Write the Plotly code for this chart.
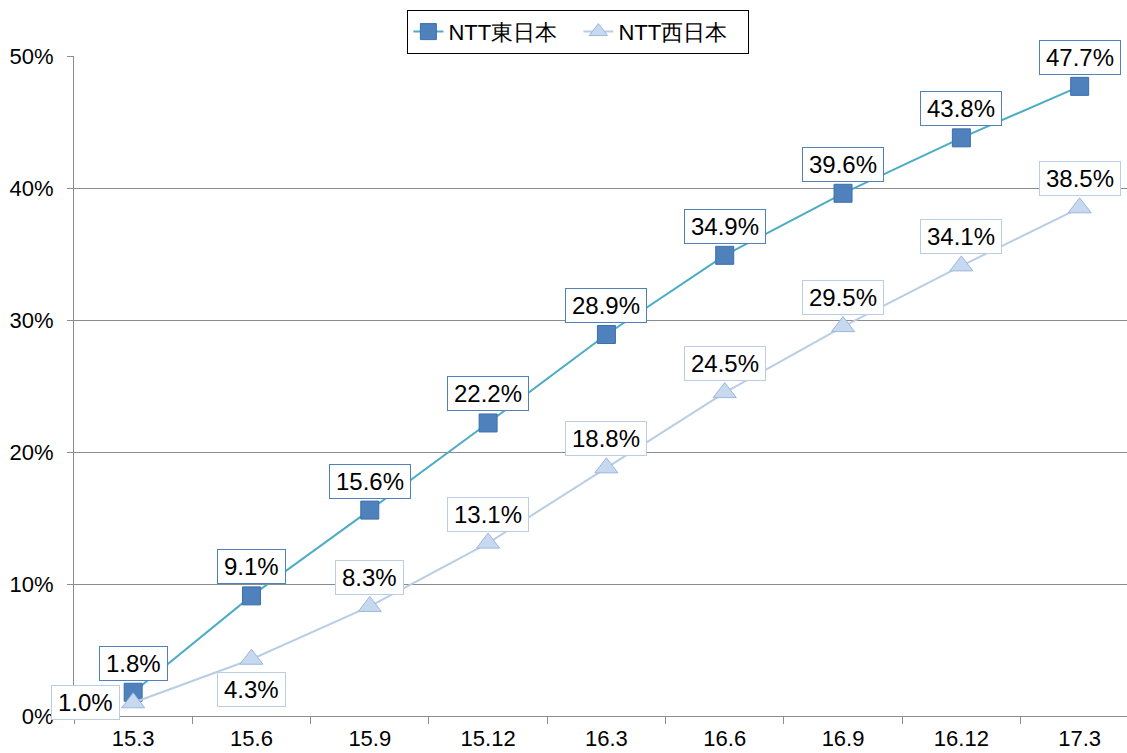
import plotly.graph_objects as go

# Category labels and the two series (share, %)
periods = ["15.3", "15.6", "15.9", "15.12", "16.3", "16.6", "16.9", "16.12", "17.3"]
east = [1.8, 9.1, 15.6, 22.2, 28.9, 34.9, 39.6, 43.8, 47.7]
west = [1.0, 4.3, 8.3, 13.1, 18.8, 24.5, 29.5, 34.1, 38.5]
east_name = "NTT東日本"
west_name = "NTT西日本"

# label offsets (px) for the west series: first left, second below, rest above
west_shift = [(-48, 0), (0, -30)] + [(0, 29)] * 7

FONT = "Arial, Liberation Sans, sans-serif"
LABEL_SIZE = 24
EAST_LINE = "#4BACC6"
EAST_FILL = "#4F81BD"
WEST_LINE = "#B9CDE5"
WEST_FILL = "#C6D9F1"

fig = go.Figure()
fig.add_trace(go.Scatter(
    x=periods, y=east, name=east_name, mode="lines+markers",
    line=dict(color=EAST_LINE, width=2),
    marker=dict(symbol="square", size=18, color=EAST_FILL,
                line=dict(color="#3E6FA8", width=1)),
))
fig.add_trace(go.Scatter(
    x=periods, y=west, name=west_name, mode="lines+markers",
    line=dict(color=WEST_LINE, width=2),
    marker=dict(symbol="triangle-up", size=20, color=WEST_FILL,
                line=dict(color="#9DB7D8", width=1)),
))


def text_width(s, size=LABEL_SIZE):
    w = 0.0
    for ch in s:
        if ch.isdigit():
            w += 0.556 * size
        elif ch == ".":
            w += 0.278 * size
        elif ch == "%":
            w += 0.889 * size
    return w


# value boxes, positioned by category index
annotations = []
for i, v in enumerate(east):
    t = f"{v:.1f}%"
    annotations.append(dict(
        x=i, y=v, xref="x", yref="y", text=t, showarrow=False, yshift=29,
        font=dict(family=FONT, size=LABEL_SIZE, color="black"),
        bgcolor="white", bordercolor=EAST_FILL, borderwidth=1, borderpad=1,
        width=text_width(t) + 10, height=31,
    ))
for i, (v, (dx, dy)) in enumerate(zip(west, west_shift)):
    t = f"{v:.1f}%"
    annotations.append(dict(
        x=i, y=v, xref="x", yref="y", text=t, showarrow=False,
        xshift=dx, yshift=dy,
        font=dict(family=FONT, size=LABEL_SIZE, color="black"),
        bgcolor="white", bordercolor=WEST_LINE, borderwidth=1, borderpad=1,
        width=text_width(t) + 10, height=31,
    ))

fig.update_layout(
    width=1127, height=753,
    margin=dict(l=74, r=0, t=56, b=37),
    paper_bgcolor="white", plot_bgcolor="white",
    font=dict(family=FONT, size=22, color="black"),
    showlegend=True,
    legend=dict(
        orientation="h", x=0.479, xanchor="center", y=1.07, yanchor="top",
        bordercolor="black", borderwidth=1, bgcolor="white",
        font=dict(family=FONT, size=22, color="black"),
        itemwidth=30, tracegroupgap=0, entrywidth=125,
    ),
    annotations=annotations,
    xaxis=dict(
        type="category", range=[-0.5, 8.4],
        showgrid=False, showline=True, linecolor="#8C8C8C", linewidth=1,
        ticks="outside", tickson="boundaries", ticklen=7, tickcolor="#8C8C8C",
        ticklabelstandoff=3,
        tickfont=dict(family=FONT, size=22, color="black"),
    ),
    yaxis=dict(
        range=[0, 50], dtick=10, ticksuffix="%",
        showgrid=True, gridcolor="#8C8C8C", gridwidth=1,
        showline=True, linecolor="#8C8C8C", linewidth=1,
        ticks="outside", ticklen=6, tickcolor="#8C8C8C",
        ticklabelstandoff=9,
        zeroline=False,
        tickfont=dict(family=FONT, size=22, color="black"),
    ),
)

fig.write_html("out.html")
